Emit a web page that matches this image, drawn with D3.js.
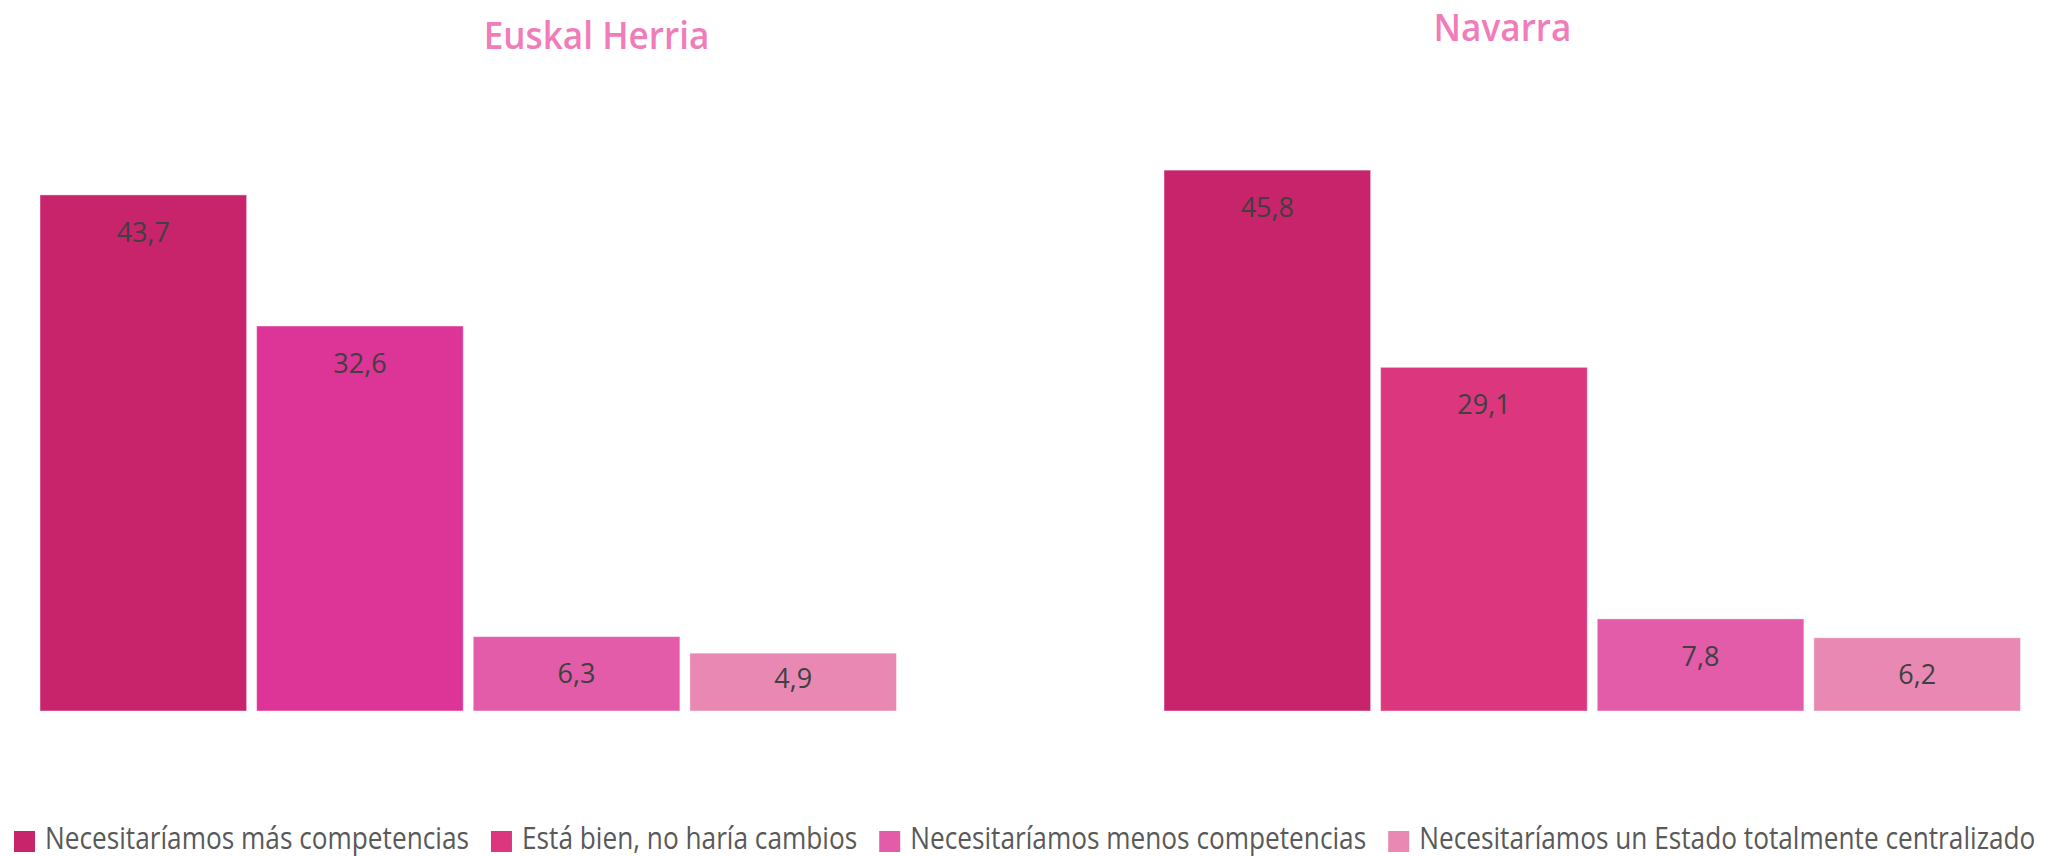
<!DOCTYPE html>
<html>
<head>
<meta charset="utf-8">
<script src="https://cdn.jsdelivr.net/npm/d3@7"></script>
<style>
  html, body { margin: 0; padding: 0; background: #ffffff; }
  svg { display: block; }
</style>
</head>
<body>
<div id="chart"></div>
<script>
// ---- Data ----
const categories = [
  "Necesitaríamos más competencias",
  "Está bien, no haría cambios",
  "Necesitaríamos menos competencias",
  "Necesitaríamos un Estado totalmente centralizado"
];
const panels = ["Euskal Herria", "Navarra"];
const euskalHerriaValues = [43.7, 32.6, 6.3, 4.9];
const navarraValues = [45.8, 29.1, 7.8, 6.2];
const euskalHerriaColors = ["#C8246B", "#DD3497", "#E25CAA", "#E989B3"];
const navarraColors = ["#C8246B", "#DB367E", "#E25CAA", "#E989B3"];
const legendColors = ["#C8246B", "#DB367E", "#E25CAA", "#E989B3"];

// ---- Layout ----
const W = 2051, H = 856;
const svg = d3.select("#chart").append("svg")
  .attr("width", W).attr("height", H)
  .attr("viewBox", `0 0 ${W} ${H}`);
svg.append("rect").attr("width", W).attr("height", H).attr("fill", "#ffffff");

const y = d3.scaleLinear().domain([0, 50]).range([711, 120.5]);

const panelDefs = [
  { title: panels[0], values: euskalHerriaValues, colors: euskalHerriaColors,
    range: [40, 896.5], titleX: 596.5, titleY: 48.5 },
  { title: panels[1], values: navarraValues, colors: navarraColors,
    range: [1164, 2020.5], titleX: 1502.5, titleY: 40.5 }
];

const fmt = v => d3.format(".1f")(v).replace(".", ",");

panelDefs.forEach(p => {
  const x = d3.scaleBand().domain(categories).range(p.range)
    .paddingInner(0.046).paddingOuter(0);
  const g = svg.append("g");

  g.append("text")
    .attr("transform", `translate(${p.titleX},${p.titleY}) scale(0.95,1)`)
    .attr("text-anchor", "middle")
    .attr("font-family", "'Open Sans', sans-serif")
    .attr("font-weight", 600)
    .attr("font-size", 37)
    .attr("fill", "#F07CBA")
    .text(p.title);

  const data = categories.map((c, i) => ({ c, v: p.values[i], color: p.colors[i] }));

  g.selectAll("rect.bar").data(data).enter().append("rect")
    .attr("class", "bar")
    .attr("x", d => x(d.c))
    .attr("y", d => y(d.v))
    .attr("width", x.bandwidth())
    .attr("height", d => y(0) - y(d.v))
    .attr("fill", d => d.color)
    .attr("stroke", "rgba(255,255,255,0.45)")
    .attr("stroke-width", 1);

  g.selectAll("text.lbl").data(data).enter().append("text")
    .attr("class", "lbl")
    .attr("x", d => x(d.c) + x.bandwidth() / 2)
    .attr("y", d => Math.min(y(d.v) + 37, y(0) - 33))
    .attr("dy", "0.36em")
    .attr("text-anchor", "middle")
    .attr("font-family", "'Open Sans', sans-serif")
    .attr("font-size", 27)
    .attr("fill", "#404040")
    .text(d => fmt(d.v));
});

// ---- Legend ----
const legend = svg.append("g");
const squeeze = 0.846 * 31 / 30.5;
let lx = 14;
categories.forEach((c, i) => {
  legend.append("rect")
    .attr("x", lx).attr("y", 831)
    .attr("width", 21).attr("height", 21)
    .attr("fill", legendColors[i]);
  const t = legend.append("text")
    .attr("transform", `translate(${lx + 31},848.5) scale(${squeeze},1)`)
    .attr("font-family", "'Open Sans', sans-serif")
    .attr("font-size", 30.5)
    .attr("fill", "#595959")
    .text(c);
  const w = t.node().getComputedTextLength() * squeeze;
  lx = lx + 31 + w + 22;
});
</script>
</body>
</html>
